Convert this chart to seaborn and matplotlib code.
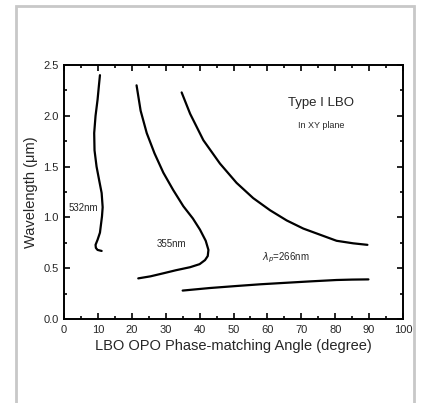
import numpy as np
import pandas as pd
import seaborn as sns
import matplotlib.pyplot as plt
from matplotlib.patches import Rectangle
from matplotlib.ticker import MultipleLocator

# curves: angle (degree), wavelength (um)
angle_532 = [10.6, 10.3, 9.9, 9.3, 8.9, 9.0, 9.6, 10.4, 11.1, 11.4, 11.2, 10.6, 9.9, 9.3, 9.4, 9.9, 11.1]
wl_532 = [2.40, 2.30, 2.16, 2.00, 1.83, 1.66, 1.50, 1.36, 1.24, 1.10, 1.01, 0.85, 0.78, 0.73, 0.70, 0.68, 0.67]

angle_355 = [21.4, 22.6, 24.4, 26.7, 29.3, 32.2, 35.2, 38.0, 40.1, 41.8, 42.6, 42.4, 41.6, 40.0, 37.2, 33.0, 29.3, 25.5, 21.9]
wl_355 = [2.30, 2.05, 1.83, 1.63, 1.44, 1.27, 1.11, 0.99, 0.88, 0.77, 0.68, 0.62, 0.58, 0.54, 0.51, 0.48, 0.45, 0.42, 0.40]

angle_266 = [34.7, 37.2, 41.1, 46.0, 50.9, 55.8, 60.8, 65.7, 70.6, 75.5, 80.4, 85.3, 89.5]
wl_266 = [2.23, 2.02, 1.76, 1.53, 1.34, 1.19, 1.07, 0.97, 0.89, 0.83, 0.77, 0.745, 0.73]

angle_266_low = [35.0, 43.0, 50.9, 58.0, 65.7, 73.0, 80.4, 85.0, 89.8]
wl_266_low = [0.28, 0.305, 0.325, 0.342, 0.357, 0.371, 0.384, 0.388, 0.39]

x_ticks = [0, 10, 20, 30, 40, 50, 60, 70, 80, 90, 100]
y_ticks = [0.0, 0.5, 1.0, 1.5, 2.0, 2.5]

sns.set_theme(style="ticks")
plt.rcParams['font.family'] = ['Liberation Sans', 'DejaVu Sans']

fig = plt.figure(figsize=(4.22, 4.03), dpi=100)
ax = fig.add_axes([0.1517, 0.2084, 0.8033, 0.6303])

# light grey card border
fig.patches.append(Rectangle((16 / 422, -0.05), (414 - 16) / 422, 1.05 - 6 / 403,
                             transform=fig.transFigure, fill=False,
                             edgecolor='#c8c8c8', linewidth=2))

curves = [(angle_532, wl_532), (angle_355, wl_355),
          (angle_266, wl_266), (angle_266_low, wl_266_low)]
for xs, ys in curves:
    sns.lineplot(x=xs, y=ys, sort=False, estimator=None, color='black',
                 linewidth=1.6, ax=ax)

ax.set_xlim(0, 100)
ax.set_ylim(0, 2.5)
ax.set_xticks(x_ticks)
ax.set_yticks(y_ticks)
ax.set_xticklabels([str(t) for t in x_ticks])
ax.set_yticklabels([f"{t:.1f}" for t in y_ticks])
ax.xaxis.set_minor_locator(MultipleLocator(5))
ax.yaxis.set_minor_locator(MultipleLocator(0.25))
ax.tick_params(which='both', direction='in', top=True, right=True,
               labelsize=8, width=1.2, color='black', pad=4)
ax.tick_params(which='major', length=4)
ax.tick_params(which='minor', length=2.5)
for s in ax.spines.values():
    s.set_linewidth(1.4)
    s.set_color('black')

ax.set_xlabel('LBO OPO Phase-matching Angle (degree)', fontsize=10.5, labelpad=3)
ax.set_ylabel('Wavelength (μm)', fontsize=10.5, labelpad=4)

ax.text(1.2, 1.09, '532nm', fontsize=7, va='center', ha='left')
ax.text(27.3, 0.74, '355nm', fontsize=7, va='center', ha='left')
ax.text(58.4, 0.60, r'$\lambda_p$=266nm', fontsize=7, va='center', ha='left')
ax.text(75.7, 2.13, 'Type I LBO', fontsize=9.5, va='center', ha='center')
ax.text(75.8, 1.90, 'In XY plane', fontsize=6.5, va='center', ha='center')

fig.savefig('out.png', dpi=100)
